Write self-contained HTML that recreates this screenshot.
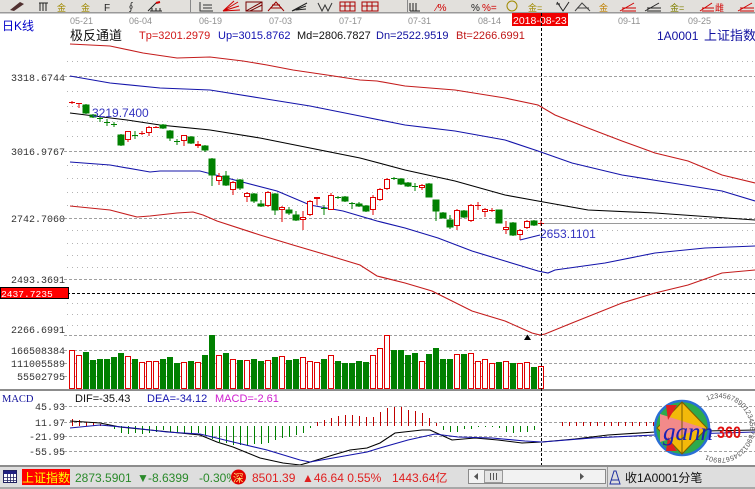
<!DOCTYPE html>
<html><head><meta charset="utf-8">
<style>
html,body{margin:0;padding:0;background:#fff;}
body{width:755px;height:489px;overflow:hidden;}
svg{display:block;font-family:"Liberation Sans","Noto Sans CJK SC",sans-serif;}
.mono{font-family:"Liberation Mono","Noto Sans CJK SC",monospace;}
.cjk{font-family:"Liberation Sans","Noto Sans CJK SC",sans-serif;}
</style></head>
<body>
<svg width="755" height="489" viewBox="0 0 755 489" xmlns="http://www.w3.org/2000/svg">
<!-- toolbar -->
<rect x="0" y="0" width="755" height="13" fill="#e2e0dc"/>
<rect x="0" y="12" width="755" height="1.5" fill="#9a9a9a"/>
<line x1="190.5" y1="0" x2="190.5" y2="12" stroke="#888"/>
<line x1="407.5" y1="0" x2="407.5" y2="12" stroke="#888"/>
<g font-size="10" font-family="Liberation Sans, Noto Sans CJK SC, sans-serif">
<path d="M10 10 L20 2 L24 4 L14 11 Z" fill="#503030"/>
<path d="M40 3 V11 M43 3 V11 M46 3 V11 M39 3 H48" stroke="#222" stroke-width="1"/>
<text x="57" y="11" fill="#a08a00" class="cjk" font-size="9">金</text>
<text x="81" y="11" fill="#a08a00" class="cjk" font-size="9">金</text>
<text x="104" y="11" fill="#222">F</text>
<text x="126" y="11" fill="#222">&#x222E;</text>
<path d="M148 11 L156 3 M150 11 H162 M152 8 V11 M156 8 V11 M160 8 V11" stroke="#222" fill="none"/>
<path d="M156 3 L160 2" stroke="#d00000" stroke-width="2"/>
<path d="M200 2 V11 H213 M203 5 H212 M203 8 H212" stroke="#333" fill="none"/>
<path d="M223 11 L238 2 M223 11 L239 6 M223 11 L240 10 M223 11 L234 1" stroke="#d00000" fill="none"/>
<path d="M246 2 H262 V11 H246 Z M246 11 L262 2 M250 11 L262 5" stroke="#700" fill="none"/>
<path d="M268 11 L276 2 L284 11 M270 8 H282 M272 5 H280" stroke="#900" fill="none"/>
<path d="M292 11 L307 3 M292 11 L306 6 M296 10 L306 9" stroke="#222" fill="none"/>
<path d="M318 3 L322 11 L325 5 L328 11 L332 3" stroke="#333" fill="none"/>
<path d="M340 2 H355 V11 H340 Z M340 6 H355 M345 2 V11 M350 2 V11" stroke="#a00" fill="none"/>
<path d="M362 2 H378 V11 H362 Z M362 6 H378 M367 2 V11 M372 2 V11" stroke="#a00" fill="none"/>
<path d="M410 3 V11 M413 3 V11 M416 3 V11 M410 11 H420" stroke="#222" fill="none"/>
<text x="436" y="11" fill="#d00000">&#x2215;%</text>
<text x="471" y="11" fill="#222">%</text>
<text x="482" y="11" fill="#d00000">%=</text>
<circle cx="512" cy="6" r="5" fill="none" stroke="#a08a00"/>
<text x="528" y="11" fill="#a08a00" class="cjk" font-size="9">金=</text>
<path d="M557 2 L563 11 L569 2 M556 4 L560 4" stroke="#222" fill="none"/>
<path d="M575 11 L582 3 L590 11 M577 8 H589" stroke="#444" fill="none"/>
<text x="599" y="11" fill="#c08000" class="cjk" font-size="9">金</text>
<path d="M620 11 L634 3 M622 8 H636 M622 11 H636" stroke="#d00000" fill="none"/>
<path d="M645 11 L659 3 M647 8 H661 M647 11 H661" stroke="#222" fill="none"/>
<text x="670" y="11" fill="#808000" class="cjk" font-size="9">金=</text>
<path d="M700 11 L712 3 M702 8 H714 M702 11 H714" stroke="#d00000" fill="none"/>
<text x="715" y="11" fill="#d00000" class="cjk" font-size="9">雌</text>
<path d="M738 11 L752 3 M740 8 H754 M740 11 H754" stroke="#d00000" fill="none"/>
</g>

<!-- date axis -->
<g font-size="9" fill="#8f8f8f">
<text x="70" y="24">05-21</text>
<text x="129" y="24">06-04</text>
<text x="199" y="24">06-19</text>
<text x="269" y="24">07-03</text>
<text x="339" y="24">07-17</text>
<text x="408" y="24">07-31</text>
<text x="478" y="24">08-14</text>
<text x="618" y="24">09-11</text>
<text x="688" y="24">09-25</text>
</g>
<rect x="512" y="13" width="56" height="13" fill="#f00000"/>
<text x="513" y="24" font-size="10.5" fill="#fff">2018-08-23</text>

<!-- header -->
<text x="2" y="30" font-size="12" fill="#0000c8" class="cjk">日K线</text>
<text x="70" y="40" font-size="13" fill="#111" class="cjk">极反通道</text>
<text x="139" y="39" font-size="11" fill="#d01818">Tp=3201.2979</text>
<text x="218" y="39" font-size="11" fill="#1010b0">Up=3015.8762</text>
<text x="297" y="39" font-size="11" fill="#111">Md=2806.7827</text>
<text x="376" y="39" font-size="11" fill="#1010a0">Dn=2522.9519</text>
<text x="456" y="39" font-size="11" fill="#c01818">Bt=2266.6991</text>
<text x="657" y="40" font-size="12" fill="#1010a0">1A0001</text>
<text x="704" y="40" font-size="13" fill="#1010a0" class="cjk">上证指数</text>

<!-- grid price -->
<g stroke="#b4b4b4" stroke-dasharray="1 4" stroke-width="1">
<path d="M67 61.5H755M67 91.5H755M67 106.5H755M67 121.5H755M67 136.5H755M67 165.5H755M67 178.5H755M67 192.5H755M67 205.5H755M67 230.5H755M67 243.5H755M67 255.5H755M67 267.5H755M67 303.5H755M67 314.5H755M67 325.5H755"/>
</g>
<g stroke="#a0a0a0" stroke-dasharray="3 2" stroke-width="1">
<path d="M64 76.5H755M64 151.5H755M64 218.5H755M64 279.5H755M64 335.5H755M64 350.5H755M64 363.5H755M64 376.5H755"/>
<path d="M64 406.5H755M64 422.5H755M64 436.5H755M64 451.5H755"/>
</g>
<line x1="541" y1="223.5" x2="755" y2="223.5" stroke="#9a9a9a"/>
<line x1="67" y1="293.5" x2="755" y2="293.5" stroke="#000" stroke-dasharray="3 2"/>

<!-- axis labels -->
<g class="mono" font-size="10" fill="#333" text-anchor="end">
<text x="65" y="81">3318.6744</text>
<text x="65" y="155">3016.9767</text>
<text x="65" y="222">2742.7060</text>
<text x="65" y="283">2493.3691</text>
<text x="65" y="333">2266.6991</text>
<text x="65" y="354">166508384</text>
<text x="65" y="367">111005589</text>
<text x="65" y="380">55502795</text>
<text x="65" y="410">45.93</text>
<text x="65" y="426">11.97</text>
<text x="65" y="440">-21.99</text>
<text x="65" y="455">-55.95</text>
</g>
<rect x="0.5" y="287.5" width="68" height="11" fill="#ff0000" stroke="#000"/>
<text x="1" y="297" class="mono" font-size="9.6" fill="#fff">2437.7235</text>

<!-- channel lines -->
<g fill="none" stroke-width="1.1">
<polyline stroke="#c41c1c" points="70,44 110,46 143,53 177,58 210,57 243,61 267,65 293,70 327,75 360,80 377,81 405,86 455,90 505,98 538,105 555,115 588,128 622,141 655,153 688,161 722,175 755,183"/>
<polyline stroke="#1414aa" points="70,76 110,83 160,88 210,90 260,98 310,106 360,116 405,125 455,131 505,140 538,151 572,163 622,175 672,183 722,191 755,201"/>
<polyline stroke="#000" points="70,113 127,120 160,125 210,130 260,138 310,148 360,158 405,170 455,181 505,195 538,201 588,210 655,213 755,220"/>
<polyline stroke="#1414aa" points="70,162 110,165 150,172 160,171 200,171 227,178 277,191 310,205 343,211 377,221 405,228 438,238 472,251 505,261 538,271 548,273 555,270 605,263 655,253 705,248 755,246"/>
<polyline stroke="#c41c1c" points="70,206 110,210 137,217 150,216 177,213 193,212 203,215 217,221 260,235 293,245 327,255 360,265 377,276 405,283 432,291 472,311 505,321 532,333 540,335 545,334 572,323 622,303 655,293 688,285 722,273 755,270"/>
<line x1="520" y1="240" x2="540" y2="235" stroke="#1414aa"/>
</g>

<!-- candles -->
<g shape-rendering="crispEdges">
<g stroke="#008000" fill="#008000">
<path fill="none" d="M86 104V114M93 114V118M100 115V122M107 119V126M114 122V127M121 134V146M135 131V139M163 124V129M170 130V141M177 139V145M191 136V144M205 145V152M212 158V186M226 171V186M240 179V190M254 193V203M261 200V207M275 193V215M289 207V215M296 211V221M324 205V215M338 196V199M345 196V202M352 202V209M359 202V207M366 205V212M394 177V180M401 178V185M408 182V187M415 183V191M429 183V197M436 200V221M443 212V218M450 215V229M464 210V218M499 210V223M513 222V236M534 220V226"/>
<path fill="none" d="M97 118.5H103M104 122.5H110M111 124.5H117M132 135.5H138M174 141.5H180M321 208.5H327M335 197.5H341M349 203.5H355M391 178.5H397M412 186.5H418"/>
<rect x="83" y="105" width="6" height="8"/>
<rect x="90" y="115" width="6" height="2"/>
<rect x="118" y="135" width="6" height="10"/>
<rect x="160" y="125" width="6" height="3"/>
<rect x="167" y="131" width="6" height="7"/>
<rect x="188" y="137" width="6" height="6"/>
<rect x="202" y="146" width="6" height="4"/>
<rect x="209" y="159" width="6" height="16"/>
<rect x="223" y="176" width="6" height="9"/>
<rect x="237" y="180" width="6" height="8"/>
<rect x="251" y="194" width="6" height="7"/>
<rect x="258" y="204" width="6" height="2"/>
<rect x="272" y="194" width="6" height="16"/>
<rect x="286" y="210" width="6" height="3"/>
<rect x="293" y="215" width="6" height="5"/>
<rect x="342" y="197" width="6" height="4"/>
<rect x="356" y="204" width="6" height="2"/>
<rect x="363" y="206" width="6" height="5"/>
<rect x="398" y="179" width="6" height="5"/>
<rect x="405" y="183" width="6" height="3"/>
<rect x="426" y="184" width="6" height="13"/>
<rect x="433" y="200" width="6" height="11"/>
<rect x="440" y="213" width="6" height="5"/>
<rect x="447" y="220" width="6" height="7"/>
<rect x="461" y="211" width="6" height="6"/>
<rect x="496" y="210" width="6" height="13"/>
<rect x="510" y="223" width="6" height="12"/>
<rect x="531" y="221" width="6" height="4"/>
</g>
<g stroke="#e00000" fill="#fff">
<path fill="none" d="M72 101V104M79 103V108M128 131V142M142 131V135M149 126V136M156 126V128M184 135V146M198 141V148M219 173V185M233 181V195M247 192V202M268 191V207M282 206V222M303 211V230M310 200V216M317 197V205M331 193V210M373 195V215M380 188V201M387 178V190M422 184V190M457 209V230M471 204V222M478 202V210M485 208V217M492 208V212M506 221V234M520 229V240M527 220V229M541 220V226"/>
<path fill="none" d="M69 102.5H75M76 103.5H82M139 133.5H145M153 127.5H159M475 205.5H481M489 210.5H495M538 223.5H544"/>
<rect x="195" y="144" width="6" height="2" fill="#e00000" stroke="none"/>
<rect x="314" y="197" width="6" height="2" fill="#e00000" stroke="none"/>
<rect x="125.5" y="131.5" width="5" height="8"/>
<rect x="146.5" y="127.5" width="5" height="5"/>
<rect x="181.5" y="135.5" width="5" height="5"/>
<rect x="216.5" y="176.5" width="5" height="4"/>
<rect x="230.5" y="182.5" width="5" height="7"/>
<rect x="244.5" y="193.5" width="5" height="3"/>
<rect x="265.5" y="192.5" width="5" height="13"/>
<rect x="279.5" y="207.5" width="5" height="2"/>
<rect x="300.5" y="217.5" width="5" height="2"/>
<rect x="307.5" y="201.5" width="5" height="13"/>
<rect x="328.5" y="195.5" width="5" height="14"/>
<rect x="370.5" y="197.5" width="5" height="12"/>
<rect x="377.5" y="189.5" width="5" height="10"/>
<rect x="384.5" y="179.5" width="5" height="9"/>
<rect x="419.5" y="185.5" width="5" height="2"/>
<rect x="454.5" y="210.5" width="5" height="15"/>
<rect x="468.5" y="205.5" width="5" height="15"/>
<rect x="482.5" y="209.5" width="5" height="2"/>
<rect x="503.5" y="227.5" width="5" height="2"/>
<rect x="517.5" y="230.5" width="5" height="4"/>
<rect x="524.5" y="221.5" width="5" height="6"/>
</g>
</g>

<!-- labels on chart -->
<text x="92" y="117" font-size="12" fill="#3434c0">3219.7400</text>
<text x="540" y="238" font-size="12" fill="#3434c0">2653.1101</text>
<path d="M524 340 L527.5 334.5 L531 340 Z" fill="#000"/>

<!-- volume -->
<g shape-rendering="crispEdges">
<g fill="#008000">
<rect x="83" y="352" width="6" height="37"/>
<rect x="90" y="360" width="6" height="29"/>
<rect x="97" y="359" width="6" height="30"/>
<rect x="104" y="359" width="6" height="30"/>
<rect x="111" y="357" width="6" height="32"/>
<rect x="118" y="353" width="6" height="36"/>
<rect x="132" y="359" width="6" height="30"/>
<rect x="160" y="359" width="6" height="30"/>
<rect x="167" y="357" width="6" height="32"/>
<rect x="174" y="363" width="6" height="26"/>
<rect x="188" y="361" width="6" height="28"/>
<rect x="202" y="355" width="6" height="34"/>
<rect x="209" y="335" width="6" height="54"/>
<rect x="223" y="353" width="6" height="36"/>
<rect x="237" y="360" width="6" height="29"/>
<rect x="251" y="359" width="6" height="30"/>
<rect x="258" y="361" width="6" height="28"/>
<rect x="272" y="357" width="6" height="32"/>
<rect x="286" y="360" width="6" height="29"/>
<rect x="293" y="359" width="6" height="30"/>
<rect x="321" y="359" width="6" height="30"/>
<rect x="335" y="361" width="6" height="28"/>
<rect x="342" y="363" width="6" height="26"/>
<rect x="349" y="363" width="6" height="26"/>
<rect x="356" y="361" width="6" height="28"/>
<rect x="363" y="362" width="6" height="27"/>
<rect x="391" y="350" width="6" height="39"/>
<rect x="398" y="350" width="6" height="39"/>
<rect x="405" y="355" width="6" height="34"/>
<rect x="412" y="353" width="6" height="36"/>
<rect x="426" y="354" width="6" height="35"/>
<rect x="433" y="348" width="6" height="41"/>
<rect x="440" y="359" width="6" height="30"/>
<rect x="447" y="359" width="6" height="30"/>
<rect x="461" y="354" width="6" height="35"/>
<rect x="496" y="362" width="6" height="27"/>
<rect x="510" y="363" width="6" height="26"/>
<rect x="531" y="367" width="6" height="22"/>
</g>
<g fill="#fff" stroke="#e00000">
<rect x="69.5" y="350.5" width="5" height="38"/>
<rect x="76.5" y="355.5" width="5" height="33"/>
<rect x="125.5" y="356.5" width="5" height="32"/>
<rect x="139.5" y="362.5" width="5" height="26"/>
<rect x="146.5" y="361.5" width="5" height="27"/>
<rect x="153.5" y="361.5" width="5" height="27"/>
<rect x="181.5" y="362.5" width="5" height="26"/>
<rect x="195.5" y="362.5" width="5" height="26"/>
<rect x="216.5" y="355.5" width="5" height="33"/>
<rect x="230.5" y="359.5" width="5" height="29"/>
<rect x="244.5" y="360.5" width="5" height="28"/>
<rect x="265.5" y="360.5" width="5" height="28"/>
<rect x="279.5" y="356.5" width="5" height="32"/>
<rect x="300.5" y="357.5" width="5" height="31"/>
<rect x="307.5" y="361.5" width="5" height="27"/>
<rect x="314.5" y="362.5" width="5" height="26"/>
<rect x="328.5" y="355.5" width="5" height="33"/>
<rect x="370.5" y="355.5" width="5" height="33"/>
<rect x="377.5" y="348.5" width="5" height="40"/>
<rect x="384.5" y="335.5" width="5" height="53"/>
<rect x="419.5" y="361.5" width="5" height="27"/>
<rect x="454.5" y="354.5" width="5" height="34"/>
<rect x="468.5" y="353.5" width="5" height="35"/>
<rect x="475.5" y="361.5" width="5" height="27"/>
<rect x="482.5" y="359.5" width="5" height="29"/>
<rect x="489.5" y="363.5" width="5" height="25"/>
<rect x="503.5" y="361.5" width="5" height="27"/>
<rect x="517.5" y="363.5" width="5" height="25"/>
<rect x="524.5" y="362.5" width="5" height="26"/>
<rect x="538.5" y="366.5" width="5" height="22"/>
</g>
</g>
<rect x="0" y="389" width="755" height="2" fill="#8c8c8c"/>

<!-- MACD panel -->
<text x="2" y="402" font-family="Liberation Serif, serif" font-size="10.5" fill="#10109a">MACD</text>
<text x="75" y="402" font-size="11" fill="#111">DIF=-35.43</text>
<text x="147" y="402" font-size="11" fill="#1414b0">DEA=-34.12</text>
<text x="215" y="402" font-size="11" fill="#d020d0">MACD=-2.61</text>

<g shape-rendering="crispEdges" stroke-width="1">
<path stroke="#c00000" d="M72.5 426V419M79.5 426V420M86.5 426V422M93.5 426V423M100.5 426V424M107.5 426V425M317.5 426V422M324.5 426V420M331.5 426V418M338.5 426V416M345.5 426V415M352.5 426V415M359.5 426V416M366.5 426V417M373.5 426V417M380.5 426V412M387.5 426V408M394.5 426V407M401.5 426V407M408.5 426V410M415.5 426V411M422.5 426V413M429.5 426V418M436.5 426V423M562.5 426V422M569.5 426V422M576.5 426V422M583.5 426V422M590.5 426V422M597.5 426V422M604.5 426V422M611.5 426V422M618.5 426V422M625.5 426V422M632.5 426V422M639.5 426V422M646.5 426V422M653.5 426V422"/>
<path stroke="#008000" d="M114.5 426V429M121.5 426V433M128.5 426V434M135.5 426V433M142.5 426V434M149.5 426V433M156.5 426V432M163.5 426V430M170.5 426V432M177.5 426V432M184.5 426V433M191.5 426V433M198.5 426V433M205.5 426V435M212.5 426V439M219.5 426V442M226.5 426V443M233.5 426V445M240.5 426V445M247.5 426V445M254.5 426V444M261.5 426V444M268.5 426V443M275.5 426V440M282.5 426V438M289.5 426V437M296.5 426V435M303.5 426V433M310.5 426V428M443.5 426V430M450.5 426V432M457.5 426V432M464.5 426V429M471.5 426V429M478.5 426V427M485.5 426V427M492.5 426V427M499.5 426V428M506.5 426V432M513.5 426V433M520.5 426V432M527.5 426V432M534.5 426V430"/>
</g>
<g fill="none" stroke-width="1.1">
<polyline stroke="#000" points="70,421 100,423 120,427 150,430 180,433 200,435 217,442 233,447 260,458 283,463 300,465 307,463 333,455 350,450 367,448 380,443 395,433 422,430 430,430 452,440 475,438 498,440 522,443 542,442 575,439 608,435 655,432 755,430"/>
<polyline stroke="#1414aa" points="70,428 100,425 133,428 167,432 200,434 233,442 267,450 300,460 310,462 333,458 367,452 380,448 408,440 435,434 458,437 492,438 525,441 542,442 592,438 655,435 755,432"/>
</g>

<!-- vertical cursor line -->
<line x1="541.5" y1="13" x2="541.5" y2="465" stroke="#000" stroke-dasharray="3 2"/>

<!-- logo -->
<g>
<circle cx="682" cy="428" r="27" fill="#2eaa4c" stroke="#2a6fd6" stroke-width="2.5"/>
<polygon points="682,402 707,428 682,454 657,428" fill="#f3b90a" stroke="#7a5a00" stroke-width="1"/>
<polygon points="660,414 704,428 660,442" fill="#f28a8a"/>
<polygon points="666,405 677,405 668,420" fill="#e02020"/>
<polygon points="666,451 677,451 668,437" fill="#e02020"/>
<line x1="682" y1="402" x2="682" y2="454" stroke="#7a5a00"/>
<text x="663" y="440" font-family="Liberation Serif, serif" font-style="italic" font-size="25" fill="#1a22b4">gann</text>
<text x="717" y="438" font-weight="bold" font-size="17" fill="#e01010" textLength="24" lengthAdjust="spacingAndGlyphs">360</text>
<path id="ring" d="M707.3 400.8 A30 30 0 1 1 707.3 455.2" fill="none"/>
<text font-size="7" fill="#555"><textPath href="#ring">123456789012345678901234567890123</textPath></text>
</g>

<!-- status bar -->
<rect x="0" y="465" width="755" height="24" fill="#dedede"/>
<rect x="0" y="465" width="755" height="2" fill="#8c8c8c"/>
<rect x="0" y="487" width="755" height="2" fill="#a8a8a8"/>
<rect x="3.5" y="470.5" width="13" height="12" fill="#fff" stroke="#202060"/>
<rect x="4" y="471" width="12" height="3" fill="#202080"/>
<path d="M4 477.5H16M4 480.5H16M7.5 474V483M10.5 474V483M13.5 474V483" stroke="#202060" stroke-width="0.8"/>
<rect x="22" y="469" width="48" height="16" fill="#ff0000"/>
<text x="22" y="482" font-size="12" fill="#ffff00" class="cjk">上证指数</text>
<text x="75" y="482" font-size="12" fill="#2a8a2a">2873.5901</text>
<text x="137" y="482" font-size="12" fill="#2a8a2a">▼</text>
<text x="148" y="482" font-size="12" fill="#2a8a2a">-8.6399</text>
<text x="199" y="482" font-size="12" fill="#2a8a2a">-0.30%</text>
<circle cx="238.5" cy="477" r="7.5" fill="#e00000"/>
<text x="233" y="481.5" font-size="10.5" fill="#ffe070" class="cjk">深</text>
<text x="252" y="482" font-size="12" fill="#e02020">8501.39</text>
<text x="302" y="482" font-size="12" fill="#e02020">▲46.64 0.55%</text>
<text x="392" y="482" font-size="12" fill="#e02020" class="cjk">1443.64亿</text>
<rect x="468.5" y="469.5" width="137" height="14" fill="#f2f2f2" stroke="#8a8a8a"/>
<path d="M478 473 L474 476.5 L478 480 Z" fill="#555"/>
<rect x="484.5" y="470.5" width="18" height="12" fill="#e4e4e4" stroke="#999"/>
<path d="M490.5 473V480M493.5 473V480M496.5 473V480" stroke="#555"/>
<path d="M580 473 L584 476.5 L580 480 Z" fill="#555"/>
<line x1="607.5" y1="467" x2="607.5" y2="487" stroke="#999"/>
<path d="M614 471 L610 484 H620 L616 471 Z M611 480 H619" fill="none" stroke="#2030a0"/>
<text x="625" y="482" font-size="12" fill="#111" class="cjk">收1A0001分笔</text>
</svg>
</body></html>
